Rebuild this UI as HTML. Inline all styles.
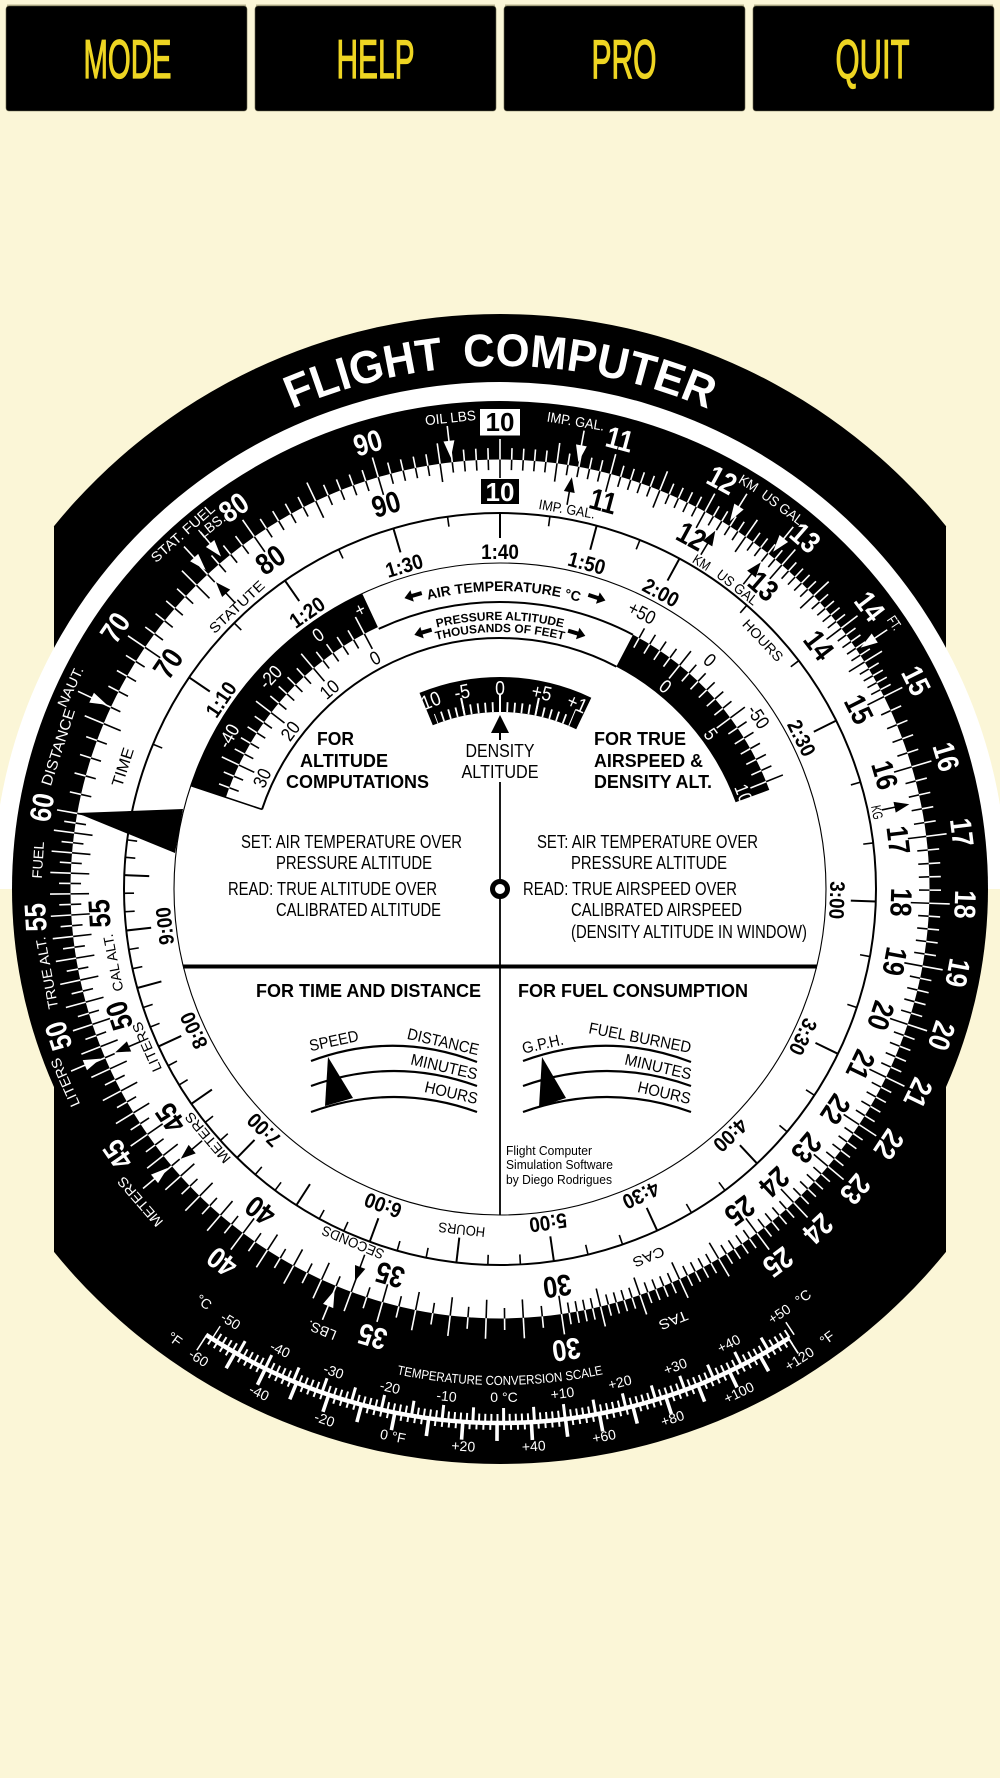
<!DOCTYPE html>
<html lang="en"><head><meta charset="utf-8"><title>Flight Computer</title>
<style>
html,body{margin:0;padding:0;background:#fbf6d7}
svg{display:block;font-family:"Liberation Sans",Arial,sans-serif}
.w{fill:#fff}.k{fill:#000}
.ow{fill:#fff;font-weight:bold;font-size:30px;text-anchor:middle}
.ik{fill:#000;font-weight:bold;font-size:30px;text-anchor:middle}
.tm{fill:#000;font-weight:bold;font-size:21px;text-anchor:middle}
.sm{font-size:14px;text-anchor:middle}
.md{font-size:19px;text-anchor:middle}
.t{font-size:14px;text-anchor:middle;fill:#fff}
.r{font-size:18px;fill:#000}
.b{font-size:18.5px;font-weight:bold;fill:#000}
.btn{font-size:55px;fill:#eed522;stroke:#eed522;stroke-width:1.3px;text-anchor:middle}
</style></head><body>
<svg xmlns="http://www.w3.org/2000/svg" width="1000" height="1778" viewBox="0 0 1000 1778">
<defs>
<g id="L" stroke-width="1.6"><path d="M0-411V-429.5" stroke="#000"/><path d="M0-429.5V-450" stroke="#fff"/></g>
<g id="S" stroke-width="1.6"><path d="M0-419V-429.5" stroke="#000"/><path d="M0-429.5V-441" stroke="#fff"/></g>
<path id="tj" d="M0-376V-351" stroke="#000" stroke-width="2"/>
<path id="tn" d="M0-376V-366" stroke="#000" stroke-width="1.6"/>
<path id="oa" d="M-.8-466h1.6v15h4.7L0-434l-5.5-17h4.7z" fill="#fff"/>
<path id="ia" d="M-.8-390V-403H-5.5L0-418L5.5-403H.8V-390z" fill="#000"/>
<g id="lL" stroke-width="1.6"><path d="M0-272V-289" stroke="#000"/><path d="M0-289V-308" stroke="#fff"/></g>
<g id="lS" stroke-width="1.6"><path d="M0-279V-289" stroke="#000"/><path d="M0-289V-300" stroke="#fff"/></g>
<g id="rL" stroke-width="1.6"><path d="M0-270V-287" stroke="#fff"/><path d="M0-287V-305" stroke="#000"/></g>
<g id="rS" stroke-width="1.6"><path d="M0-276V-287" stroke="#fff"/><path d="M0-287V-298" stroke="#000"/></g>
<path id="ar" d="M-9 0L-1-6V-2H9V2H-1V6Z" fill="#000"/>
<path id="p523" d="M-23 889A523 523 0 0 1 1023 889"/>
<path id="p298" d="M-298 0A298 298 0 0 1 298 0"/>
<path id="p269" d="M-269 0A269 269 0 0 1 269 0"/>
<path id="p257" d="M-257 0A257 257 0 0 1 257 0"/>
<path id="p496" d="M4 889A496 496 0 0 0 996 889"/>
<clipPath id="dc"><path d="M-80.5-196.1A212 212 0 0 1 91.3-191.3L76.2-159.8A177 177 0 0 0-67.2-163.8Z"/></clipPath>
<clipPath id="rc"><path d="M133-254.3A287 287 0 0 1 269.3-99.1L235.6-86.7A251 251 0 0 0 116.3-222.4Z"/></clipPath>
</defs>
<rect width="1000" height="1778" fill="#fbf6d7"/>

<!-- buttons -->
<g>
<rect x="7" y="4.5" width="239" height="3" fill="#b9b48f"/><rect x="256" y="4.5" width="239" height="3" fill="#b9b48f"/><rect x="505" y="4.5" width="239" height="3" fill="#b9b48f"/><rect x="754" y="4.5" width="239" height="3" fill="#b9b48f"/>
<rect x="6" y="6" width="241" height="105" rx="3" fill="#000" stroke="#6b684f" stroke-width=".6"/>
<rect x="255" y="6" width="241" height="105" rx="3" fill="#000" stroke="#6b684f" stroke-width=".6"/>
<rect x="504" y="6" width="241" height="105" rx="3" fill="#000" stroke="#6b684f" stroke-width=".6"/>
<rect x="753" y="6" width="241" height="105" rx="3" fill="#000" stroke="#6b684f" stroke-width=".6"/>
<text class="btn" x="127.5" y="78" textLength="88" lengthAdjust="spacingAndGlyphs">MODE</text>
<text class="btn" x="375.5" y="78" textLength="78" lengthAdjust="spacingAndGlyphs">HELP</text>
<text class="btn" x="624" y="78" textLength="65" lengthAdjust="spacingAndGlyphs">PRO</text>
<text class="btn" x="872.5" y="78" textLength="74" lengthAdjust="spacingAndGlyphs">QUIT</text>
</g>

<!-- base -->
<path d="M54 526.1A575 575 0 0 1 946 526.1V1251.9A575 575 0 0 1 54 1251.9Z" fill="#000"/>
<path d="M-7 889A507 507 0 0 1 1007 889Z" fill="#fff"/>
<text font-size="46" font-weight="bold" fill="#fff" text-anchor="middle" word-spacing="8"><textPath href="#p523" startOffset="50%" textLength="428" lengthAdjust="spacingAndGlyphs">FLIGHT COMPUTER</textPath></text>
<circle cx="500" cy="889" r="488" fill="#000"/>

<!-- temperature scale -->
<g fill="none" stroke="#fff">
<path d="M789.3 1337.9A534 534 0 0 1 206 1334.8" stroke-width="4.5"/>
<path d="M792.2 1330.6A529.5 529.5 0 0 1 214 1334.6" stroke-width="9" stroke-dasharray="2 4.118" stroke-dashoffset="1"/>
<path d="M790.6 1328.05A526.5 526.5 0 0 1 215.6 1332.05" stroke-width="15" stroke-dasharray="3 27.42" stroke-dashoffset="1.5"/>
<path d="M791.2 1340.8A537.5 537.5 0 0 1 204.1 1337.7" stroke-width="7" stroke-dasharray="2 4.9" stroke-dashoffset="1"/>
<path d="M794.1 1345.4A543 543 0 0 1 201.1 1342.3" stroke-width="18" stroke-dasharray="3.6 31.26" stroke-dashoffset="1.8"/>
</g>
<g class="tt">
<text class="t" transform="translate(228 1325) rotate(32.3)">-50</text>
<text class="t" transform="translate(278 1354) rotate(25.8)">-40</text>
<text class="t" transform="translate(332 1376) rotate(19.2)">-30</text>
<text class="t" transform="translate(389 1392) rotate(12.6)">-20</text>
<text class="t" transform="translate(446 1401) rotate(6)">-10</text>
<text class="t" x="504" y="1402">0 °C</text>
<text class="t" transform="translate(563 1398) rotate(-7)">+10</text>
<text class="t" transform="translate(621 1387) rotate(-14)">+20</text>
<text class="t" transform="translate(677 1371) rotate(-20.6)">+30</text>
<text class="t" transform="translate(731 1348) rotate(-27)">+40</text>
<text class="t" transform="translate(782 1318) rotate(-33.6)">+50</text>
<text class="t" transform="translate(201 1306) rotate(36)">°C</text>
<text class="t" transform="translate(806 1301) rotate(-37)">°C</text>
<text class="t" transform="translate(196 1362) rotate(33)">-60</text>
<text class="t" transform="translate(257 1397) rotate(25.8)">-40</text>
<text class="t" transform="translate(323 1424) rotate(18.5)">-20</text>
<text class="t" transform="translate(392 1441) rotate(11.2)">0 °F</text>
<text class="t" transform="translate(463 1451) rotate(3.8)">+20</text>
<text class="t" transform="translate(534 1451) rotate(-3.5)">+40</text>
<text class="t" transform="translate(605 1441) rotate(-10.9)">+60</text>
<text class="t" transform="translate(674 1423) rotate(-18.2)">+80</text>
<text class="t" transform="translate(741 1397) rotate(-25.6)">+100</text>
<text class="t" transform="translate(802 1363) rotate(-32.8)">+120</text>
<text class="t" transform="translate(172 1343) rotate(36)">°F</text>
<text class="t" transform="translate(830 1342) rotate(-36.4)">°F</text>
<text font-size="13" fill="#fff" text-anchor="middle"><textPath href="#p496" startOffset="50%" textLength="208" lengthAdjust="spacingAndGlyphs">TEMPERATURE CONVERSION SCALE</textPath></text>
</g>

<g transform="translate(500 889)">
<circle r="429.5" fill="#fff"/>
<!-- long scale ticks -->
<g>
<use href="#L"/><use href="#L" transform="rotate(7.63)"/><use href="#L" transform="rotate(14.9)"/><use href="#L" transform="rotate(21.85)"/><use href="#L" transform="rotate(28.51)"/><use href="#L" transform="rotate(34.89)"/><use href="#L" transform="rotate(41.02)"/><use href="#L" transform="rotate(46.92)"/><use href="#L" transform="rotate(52.61)"/><use href="#L" transform="rotate(58.09)"/><use href="#L" transform="rotate(63.39)"/>
<use href="#S" transform="rotate(1.56)"/><use href="#S" transform="rotate(3.1)"/><use href="#S" transform="rotate(4.62)"/><use href="#S" transform="rotate(6.13)"/><use href="#S" transform="rotate(9.11)"/><use href="#S" transform="rotate(10.58)"/><use href="#S" transform="rotate(12.03)"/><use href="#S" transform="rotate(13.47)"/>
<use href="#S" transform="rotate(16.32)"/><use href="#S" transform="rotate(17.72)"/><use href="#S" transform="rotate(19.11)"/><use href="#S" transform="rotate(20.49)"/><use href="#S" transform="rotate(23.21)"/><use href="#S" transform="rotate(24.55)"/><use href="#S" transform="rotate(25.88)"/><use href="#S" transform="rotate(27.2)"/>
<use href="#S" transform="rotate(29.8)"/><use href="#S" transform="rotate(31.09)"/><use href="#S" transform="rotate(32.37)"/><use href="#S" transform="rotate(33.63)"/><use href="#S" transform="rotate(36.13)"/><use href="#S" transform="rotate(37.37)"/><use href="#S" transform="rotate(38.6)"/><use href="#S" transform="rotate(39.81)"/>
<use href="#S" transform="rotate(42.22)"/><use href="#S" transform="rotate(43.41)"/><use href="#S" transform="rotate(44.59)"/><use href="#S" transform="rotate(45.76)"/><use href="#S" transform="rotate(48.07)"/><use href="#S" transform="rotate(49.22)"/><use href="#S" transform="rotate(50.36)"/><use href="#S" transform="rotate(51.48)"/>
<use href="#S" transform="rotate(53.72)"/><use href="#S" transform="rotate(54.82)"/><use href="#S" transform="rotate(55.92)"/><use href="#S" transform="rotate(57.01)"/><use href="#S" transform="rotate(59.17)"/><use href="#S" transform="rotate(60.23)"/><use href="#S" transform="rotate(61.29)"/><use href="#S" transform="rotate(62.35)"/>
<use href="#S" transform="rotate(65.46)"/><use href="#S" transform="rotate(67.51)"/><use href="#S" transform="rotate(69.52)"/><use href="#S" transform="rotate(71.52)"/><use href="#L" transform="rotate(73.48)"/>
<use href="#S" transform="rotate(75.43)"/><use href="#S" transform="rotate(77.34)"/><use href="#S" transform="rotate(79.24)"/><use href="#S" transform="rotate(81.11)"/><use href="#L" transform="rotate(82.96)"/>
<use href="#S" transform="rotate(84.79)"/><use href="#S" transform="rotate(86.6)"/><use href="#S" transform="rotate(88.38)"/><use href="#S" transform="rotate(90.15)"/><use href="#L" transform="rotate(91.9)"/>
<use href="#S" transform="rotate(93.63)"/><use href="#S" transform="rotate(95.33)"/><use href="#S" transform="rotate(97.02)"/><use href="#S" transform="rotate(98.7)"/><use href="#L" transform="rotate(100.35)"/>
<use href="#S" transform="rotate(101.99)"/><use href="#S" transform="rotate(103.61)"/><use href="#S" transform="rotate(105.21)"/><use href="#S" transform="rotate(106.8)"/><use href="#L" transform="rotate(108.37)"/>
<use href="#S" transform="rotate(109.93)"/><use href="#S" transform="rotate(111.47)"/><use href="#S" transform="rotate(112.99)"/><use href="#S" transform="rotate(114.5)"/><use href="#L" transform="rotate(116)"/>
<use href="#S" transform="rotate(117.48)"/><use href="#S" transform="rotate(118.95)"/><use href="#S" transform="rotate(120.4)"/><use href="#S" transform="rotate(121.85)"/><use href="#L" transform="rotate(123.27)"/>
<use href="#S" transform="rotate(124.69)"/><use href="#S" transform="rotate(126.09)"/><use href="#S" transform="rotate(127.48)"/><use href="#S" transform="rotate(128.86)"/><use href="#L" transform="rotate(130.22)"/>
<use href="#S" transform="rotate(131.58)"/><use href="#S" transform="rotate(132.92)"/><use href="#S" transform="rotate(134.25)"/><use href="#S" transform="rotate(135.57)"/><use href="#L" transform="rotate(136.88)"/>
<use href="#S" transform="rotate(138.17)"/><use href="#S" transform="rotate(139.46)"/><use href="#S" transform="rotate(140.74)"/><use href="#S" transform="rotate(142)"/><use href="#L" transform="rotate(143.26)"/>
<use href="#S" transform="rotate(144.5)"/><use href="#S" transform="rotate(145.74)"/><use href="#S" transform="rotate(146.97)"/><use href="#S" transform="rotate(148.18)"/><use href="#L" transform="rotate(149.39)"/>
<use href="#S" transform="rotate(150.59)"/><use href="#S" transform="rotate(151.78)"/><use href="#S" transform="rotate(152.96)"/><use href="#S" transform="rotate(154.13)"/><use href="#L" transform="rotate(155.29)"/>
<use href="#S" transform="rotate(156.44)"/><use href="#S" transform="rotate(157.59)"/><use href="#S" transform="rotate(158.73)"/><use href="#S" transform="rotate(159.86)"/><use href="#L" transform="rotate(160.98)"/>
<use href="#S" transform="rotate(162.09)"/><use href="#S" transform="rotate(163.2)"/><use href="#S" transform="rotate(164.29)"/><use href="#S" transform="rotate(165.38)"/><use href="#L" transform="rotate(166.46)"/>
<use href="#S" transform="rotate(167.54)"/><use href="#S" transform="rotate(168.61)"/><use href="#S" transform="rotate(169.66)"/><use href="#S" transform="rotate(170.72)"/><use href="#L" transform="rotate(171.76)"/>
<use href="#S" transform="rotate(174.35)"/><use href="#L" transform="rotate(176.89)"/><use href="#S" transform="rotate(179.39)"/><use href="#L" transform="rotate(181.85)"/><use href="#S" transform="rotate(184.28)"/><use href="#L" transform="rotate(186.66)"/><use href="#S" transform="rotate(189.01)"/><use href="#L" transform="rotate(191.33)"/><use href="#S" transform="rotate(193.62)"/><use href="#L" transform="rotate(195.87)"/>
<use href="#S" transform="rotate(198.08)"/><use href="#L" transform="rotate(200.27)"/><use href="#S" transform="rotate(202.43)"/><use href="#L" transform="rotate(204.55)"/><use href="#S" transform="rotate(206.65)"/><use href="#L" transform="rotate(208.72)"/><use href="#S" transform="rotate(210.77)"/><use href="#L" transform="rotate(212.78)"/><use href="#S" transform="rotate(214.78)"/><use href="#L" transform="rotate(216.74)"/>
<use href="#S" transform="rotate(218.69)"/><use href="#L" transform="rotate(220.6)"/><use href="#S" transform="rotate(222.5)"/><use href="#L" transform="rotate(224.37)"/><use href="#S" transform="rotate(226.22)"/><use href="#L" transform="rotate(228.05)"/><use href="#S" transform="rotate(229.86)"/><use href="#L" transform="rotate(231.64)"/><use href="#S" transform="rotate(233.41)"/><use href="#L" transform="rotate(235.16)"/>
<use href="#S" transform="rotate(236.88)"/><use href="#L" transform="rotate(238.59)"/><use href="#S" transform="rotate(240.28)"/><use href="#L" transform="rotate(241.96)"/><use href="#S" transform="rotate(243.61)"/><use href="#L" transform="rotate(245.25)"/><use href="#S" transform="rotate(246.87)"/><use href="#L" transform="rotate(248.47)"/><use href="#S" transform="rotate(250.06)"/><use href="#L" transform="rotate(251.63)"/>
<use href="#S" transform="rotate(253.18)"/><use href="#L" transform="rotate(254.73)"/><use href="#S" transform="rotate(256.25)"/><use href="#L" transform="rotate(257.76)"/><use href="#S" transform="rotate(259.26)"/><use href="#L" transform="rotate(260.74)"/><use href="#S" transform="rotate(262.21)"/><use href="#L" transform="rotate(263.66)"/><use href="#S" transform="rotate(265.1)"/><use href="#L" transform="rotate(266.53)"/>
<use href="#S" transform="rotate(267.94)"/><use href="#L" transform="rotate(269.35)"/><use href="#S" transform="rotate(270.74)"/><use href="#L" transform="rotate(272.11)"/><use href="#S" transform="rotate(273.48)"/><use href="#L" transform="rotate(274.83)"/><use href="#S" transform="rotate(276.18)"/><use href="#L" transform="rotate(277.51)"/><use href="#S" transform="rotate(278.83)"/><use href="#L" transform="rotate(280.13)"/>
<use href="#S" transform="rotate(282.72)"/><use href="#S" transform="rotate(285.26)"/><use href="#S" transform="rotate(287.76)"/><use href="#S" transform="rotate(290.22)"/><use href="#L" transform="rotate(292.65)"/><use href="#S" transform="rotate(295.03)"/><use href="#S" transform="rotate(297.39)"/><use href="#S" transform="rotate(299.7)"/><use href="#S" transform="rotate(301.99)"/><use href="#L" transform="rotate(304.24)"/>
<use href="#S" transform="rotate(306.45)"/><use href="#S" transform="rotate(308.64)"/><use href="#S" transform="rotate(310.8)"/><use href="#S" transform="rotate(312.92)"/><use href="#L" transform="rotate(315.02)"/><use href="#S" transform="rotate(317.09)"/><use href="#S" transform="rotate(319.14)"/><use href="#S" transform="rotate(321.15)"/><use href="#S" transform="rotate(323.15)"/><use href="#L" transform="rotate(325.11)"/>
<use href="#S" transform="rotate(327.06)"/><use href="#S" transform="rotate(328.97)"/><use href="#S" transform="rotate(330.87)"/><use href="#S" transform="rotate(332.74)"/><use href="#L" transform="rotate(334.59)"/><use href="#S" transform="rotate(336.42)"/><use href="#S" transform="rotate(338.23)"/><use href="#S" transform="rotate(340.01)"/><use href="#S" transform="rotate(341.78)"/><use href="#L" transform="rotate(343.53)"/>
<use href="#S" transform="rotate(345.25)"/><use href="#S" transform="rotate(346.96)"/><use href="#S" transform="rotate(348.65)"/><use href="#S" transform="rotate(350.33)"/><use href="#L" transform="rotate(351.98)"/><use href="#S" transform="rotate(353.62)"/><use href="#S" transform="rotate(355.24)"/><use href="#S" transform="rotate(356.84)"/><use href="#S" transform="rotate(358.43)"/>
</g>
<!-- numbers -->
<g>
<text class="ow" y="-455" transform="rotate(14.9) scale(.85 1)">11</text><text class="ow" y="-455" transform="rotate(28.5) scale(.85 1)">12</text><text class="ow" y="-455" transform="rotate(41) scale(.85 1)">13</text><text class="ow" y="-455" transform="rotate(52.6) scale(.85 1)">14</text><text class="ow" y="-455" transform="rotate(63.4) scale(.85 1)">15</text><text class="ow" y="-455" transform="rotate(73.5) scale(.85 1)">16</text><text class="ow" y="-455" transform="rotate(83) scale(.85 1)">17</text><text class="ow" y="-455" transform="rotate(91.9) scale(.85 1)">18</text><text class="ow" y="-455" transform="rotate(100.4) scale(.85 1)">19</text><text class="ow" y="-455" transform="rotate(108.4) scale(.85 1)">20</text><text class="ow" y="-455" transform="rotate(116) scale(.85 1)">21</text><text class="ow" y="-455" transform="rotate(123.3) scale(.85 1)">22</text><text class="ow" y="-455" transform="rotate(130.2) scale(.85 1)">23</text><text class="ow" y="-455" transform="rotate(136.9) scale(.85 1)">24</text><text class="ow" y="-455" transform="rotate(143.3) scale(.85 1)">25</text><text class="ow" y="-455" transform="rotate(171.8) scale(.85 1)">30</text><text class="ow" y="-455" transform="rotate(195.9) scale(.85 1)">35</text><text class="ow" y="-455" transform="rotate(216.7) scale(.85 1)">40</text><text class="ow" y="-455" transform="rotate(235.2) scale(.85 1)">45</text><text class="ow" y="-455" transform="rotate(251.6) scale(.85 1)">50</text><text class="ow" y="-455" transform="rotate(266.5) scale(.85 1)">55</text><text class="ow" y="-455" transform="rotate(280.1) scale(.85 1)">60</text><text class="ow" y="-455" transform="rotate(304.2) scale(.85 1)">70</text><text class="ow" y="-455" transform="rotate(325.1) scale(.85 1)">80</text><text class="ow" y="-455" transform="rotate(343.5) scale(.85 1)">90</text>
<text class="ik" y="-391" transform="rotate(14.9) scale(.85 1)">11</text><text class="ik" y="-391" transform="rotate(28.5) scale(.85 1)">12</text><text class="ik" y="-391" transform="rotate(41) scale(.85 1)">13</text><text class="ik" y="-391" transform="rotate(52.6) scale(.85 1)">14</text><text class="ik" y="-391" transform="rotate(63.4) scale(.85 1)">15</text><text class="ik" y="-391" transform="rotate(73.5) scale(.85 1)">16</text><text class="ik" y="-391" transform="rotate(83) scale(.85 1)">17</text><text class="ik" y="-391" transform="rotate(91.9) scale(.85 1)">18</text><text class="ik" y="-391" transform="rotate(100.4) scale(.85 1)">19</text><text class="ik" y="-391" transform="rotate(108.4) scale(.85 1)">20</text><text class="ik" y="-391" transform="rotate(116) scale(.85 1)">21</text><text class="ik" y="-391" transform="rotate(123.3) scale(.85 1)">22</text><text class="ik" y="-391" transform="rotate(130.2) scale(.85 1)">23</text><text class="ik" y="-391" transform="rotate(136.9) scale(.85 1)">24</text><text class="ik" y="-391" transform="rotate(143.3) scale(.85 1)">25</text><text class="ik" y="-391" transform="rotate(171.8) scale(.85 1)">30</text><text class="ik" y="-391" transform="rotate(195.9) scale(.85 1)">35</text><text class="ik" y="-391" transform="rotate(216.7) scale(.85 1)">40</text><text class="ik" y="-391" transform="rotate(235.2) scale(.85 1)">45</text><text class="ik" y="-391" transform="rotate(251.6) scale(.85 1)">50</text><text class="ik" y="-391" transform="rotate(266.5) scale(.85 1)">55</text><text class="ik" y="-391" transform="rotate(304.2) scale(.85 1)">70</text><text class="ik" y="-391" transform="rotate(325.1) scale(.85 1)">80</text><text class="ik" y="-391" transform="rotate(343.5) scale(.85 1)">90</text>
<rect x="-20" y="-480" width="40" height="26.5" fill="#fff"/><text x="0" y="-458" font-size="26" font-weight="bold" text-anchor="middle" class="k">10</text>
<rect x="-19" y="-410" width="38" height="25" fill="#000"/><text x="0" y="-388" font-size="26" font-weight="bold" text-anchor="middle" class="w">10</text>
</g>
<!-- arrows -->
<use href="#oa" transform="rotate(353.5)"/><use href="#oa" transform="rotate(10.4)"/><use href="#oa" transform="rotate(32)"/><use href="#oa" transform="rotate(39)"/><use href="#oa" transform="rotate(56.2)"/><use href="#oa" transform="rotate(317.3)"/><use href="#oa" transform="rotate(320)"/><use href="#oa" transform="rotate(295.1)"/><use href="#oa" transform="rotate(247)"/><use href="#oa" transform="rotate(230)"/><use href="#oa" transform="rotate(202.4)"/>
<use href="#ia" transform="rotate(9.9)"/><use href="#ia" transform="rotate(31)"/><use href="#ia" transform="rotate(38.6)"/><use href="#ia" transform="rotate(78.3)"/><use href="#ia" transform="rotate(317.2)"/><use href="#ia" transform="rotate(247)"/><use href="#ia" transform="rotate(229.8)"/><use href="#ia" transform="rotate(200.3)"/>
<!-- small labels -->
<g class="w">
<text class="sm" y="-469" transform="rotate(354)" textLength="51" lengthAdjust="spacingAndGlyphs">OIL LBS</text>
<text class="sm" y="-469" transform="rotate(9.2)" textLength="58" lengthAdjust="spacingAndGlyphs">IMP. GAL.</text>
<text class="sm" y="-471" transform="rotate(31.5)" textLength="20" lengthAdjust="spacingAndGlyphs">KM</text>
<text class="sm" y="-470" transform="rotate(36.5)" textLength="48" lengthAdjust="spacingAndGlyphs">US GAL</text>
<text class="sm" y="-471" transform="rotate(56)" textLength="14" lengthAdjust="spacingAndGlyphs">FT.</text>
<text class="sm" y="-472" transform="rotate(318.3)" textLength="80" lengthAdjust="spacingAndGlyphs">STAT. FUEL</text>
<text class="sm" y="-459" transform="rotate(321.6)" textLength="30" lengthAdjust="spacingAndGlyphs">LBS.</text>
<text class="sm" y="-470" transform="rotate(295.2)" textLength="43" lengthAdjust="spacingAndGlyphs">NAUT.</text>
<text class="sm" style="font-size:15px" y="-459" transform="rotate(287.8)" textLength="80" lengthAdjust="spacingAndGlyphs">DISTANCE</text>
<text class="sm" y="-458" transform="rotate(273.6)" textLength="37" lengthAdjust="spacingAndGlyphs">FUEL</text>
<text class="sm" y="-456" transform="rotate(259.5)" textLength="73" lengthAdjust="spacingAndGlyphs">TRUE ALT.</text>
<text class="sm" y="-471" transform="rotate(246)" textLength="52" lengthAdjust="spacingAndGlyphs">LITERS</text>
<text class="sm" y="-472" transform="rotate(229)" textLength="61" lengthAdjust="spacingAndGlyphs">METERS</text>
<text class="sm" y="-471" transform="rotate(202)" textLength="30" lengthAdjust="spacingAndGlyphs">LBS.</text>
<text class="sm" y="-460" transform="rotate(158.1)" textLength="30" lengthAdjust="spacingAndGlyphs">TAS</text>
</g>
<g class="k">
<text class="sm" y="-381" transform="rotate(10)" textLength="57" lengthAdjust="spacingAndGlyphs">IMP. GAL.</text>
<text class="sm" y="-379" transform="rotate(31.7)" textLength="18" lengthAdjust="spacingAndGlyphs">KM</text>
<text class="sm" y="-379" transform="rotate(38.2)" textLength="48" lengthAdjust="spacingAndGlyphs">US GAL</text>
<text class="sm" y="-380" transform="rotate(78.5)" textLength="14" lengthAdjust="spacingAndGlyphs">KG</text>
<text class="sm" y="-357" transform="rotate(46.6)" textLength="52" lengthAdjust="spacingAndGlyphs">HOURS</text>
<text class="sm" y="-381" transform="rotate(317)" textLength="70" lengthAdjust="spacingAndGlyphs">STATUTE</text>
<text class="sm" style="font-size:16px" y="-391" transform="rotate(287.9)" textLength="40" lengthAdjust="spacingAndGlyphs">TIME</text>
<text class="sm" y="-389" transform="rotate(259.2)" textLength="58" lengthAdjust="spacingAndGlyphs">CAL ALT.</text>
<text class="sm" y="-382" transform="rotate(245.9)" textLength="53" lengthAdjust="spacingAndGlyphs">LITERS</text>
<text class="sm" y="-379" transform="rotate(229.6)" textLength="62" lengthAdjust="spacingAndGlyphs">METERS</text>
<text class="sm" y="-378" transform="rotate(202.6)" textLength="66" lengthAdjust="spacingAndGlyphs">SECONDS</text>
<text class="sm" y="-338" transform="rotate(186.4)" textLength="47" lengthAdjust="spacingAndGlyphs">HOURS</text>
<text class="sm" y="-392" transform="rotate(158)" textLength="33" lengthAdjust="spacingAndGlyphs">CAS</text>
</g>
<!-- time ring -->
<circle r="376" fill="none" stroke="#000" stroke-width="2"/>
<circle r="326" fill="none" stroke="#000" stroke-width="1.1"/>
<g>
<use href="#tn" transform="rotate(292.65)"/><use href="#tn" transform="rotate(315.02)"/><use href="#tn" transform="rotate(334.59)"/><use href="#tn" transform="rotate(351.98)"/><use href="#tn" transform="rotate(7.63)"/><use href="#tn" transform="rotate(21.85)"/><use href="#tn" transform="rotate(41.02)"/><use href="#tn" transform="rotate(52.61)"/><use href="#tn" transform="rotate(73.48)"/><use href="#tn" transform="rotate(82.96)"/><use href="#tn" transform="rotate(100.35)"/><use href="#tn" transform="rotate(108.37)"/><use href="#tn" transform="rotate(123.27)"/><use href="#tn" transform="rotate(130.22)"/><use href="#tn" transform="rotate(143.26)"/><use href="#tn" transform="rotate(149.39)"/><use href="#tn" transform="rotate(160.98)"/><use href="#tn" transform="rotate(166.46)"/><use href="#tn" transform="rotate(176.89)"/><use href="#tn" transform="rotate(181.85)"/><use href="#tn" transform="rotate(191.33)"/><use href="#tn" transform="rotate(195.87)"/><use href="#tn" transform="rotate(204.55)"/><use href="#tn" transform="rotate(208.72)"/><use href="#tn" transform="rotate(216.74)"/><use href="#tn" transform="rotate(220.6)"/><use href="#tn" transform="rotate(228.05)"/><use href="#tn" transform="rotate(231.64)"/><use href="#tn" transform="rotate(238.59)"/><use href="#tn" transform="rotate(241.96)"/><use href="#tn" transform="rotate(248.47)"/><use href="#tn" transform="rotate(251.63)"/><use href="#tn" transform="rotate(257.76)"/><use href="#tn" transform="rotate(260.74)"/><use href="#tn" transform="rotate(266.53)"/><use href="#tn" transform="rotate(269.35)"/><use href="#tn" transform="rotate(274.83)"/><use href="#tn" transform="rotate(277.51)"/>
<use href="#tj" transform="rotate(304.24)"/><use href="#tj" transform="rotate(325.11)"/><use href="#tj" transform="rotate(343.53)"/><use href="#tj"/><use href="#tj" transform="rotate(14.9)"/><use href="#tj" transform="rotate(28.51)"/><use href="#tj" transform="rotate(63.39)"/><use href="#tj" transform="rotate(91.9)"/><use href="#tj" transform="rotate(116)"/><use href="#tj" transform="rotate(136.88)"/><use href="#tj" transform="rotate(155.29)"/><use href="#tj" transform="rotate(171.76)"/><use href="#tj" transform="rotate(186.66)"/><use href="#tj" transform="rotate(200.27)"/><use href="#tj" transform="rotate(212.78)"/><use href="#tj" transform="rotate(224.37)"/><use href="#tj" transform="rotate(235.16)"/><use href="#tj" transform="rotate(245.25)"/><use href="#tj" transform="rotate(254.73)"/><use href="#tj" transform="rotate(263.66)"/><use href="#tj" transform="rotate(272.11)"/>
<text class="tm" y="-330" transform="rotate(304.2) scale(.9 1)">1:10</text><text class="tm" y="-330" transform="rotate(325.1) scale(.9 1)">1:20</text><text class="tm" y="-330" transform="rotate(343.5) scale(.9 1)">1:30</text><text class="tm" y="-330" transform="scale(.9 1)">1:40</text><text class="tm" y="-330" transform="rotate(14.9) scale(.9 1)">1:50</text><text class="tm" y="-330" transform="rotate(28.5) scale(.9 1)">2:00</text><text class="tm" y="-330" transform="rotate(63.4) scale(.9 1)">2:30</text><text class="tm" y="-330" transform="rotate(91.9) scale(.9 1)">3:00</text><text class="tm" y="-330" transform="rotate(116) scale(.9 1)">3:30</text><text class="tm" y="-330" transform="rotate(136.9) scale(.9 1)">4:00</text><text class="tm" y="-330" transform="rotate(155.3) scale(.9 1)">4:30</text><text class="tm" y="-330" transform="rotate(171.8) scale(.9 1)">5:00</text><text class="tm" y="-330" transform="rotate(200.3) scale(.9 1)">6:00</text><text class="tm" y="-330" transform="rotate(224.4) scale(.9 1)">7:00</text><text class="tm" y="-330" transform="rotate(245.2) scale(.9 1)">8:00</text><text class="tm" y="-330" transform="rotate(263.7) scale(.9 1)">9:00</text>
</g>
<!-- windows -->
<path d="M-309.2-103.4A326 326 0 0 1-137.8-295.5L-122.1-261.9A289 289 0 0 0-274.1-91.7Z" fill="#000"/>
<path d="M133-254.3A287 287 0 0 1 269.3-99.1L235.6-86.7A251 251 0 0 0 116.3-222.4Z" fill="#000"/>
<path d="M-121.3-260.1A287 287 0 0 1 133-254.3" fill="none" stroke="#000" stroke-width="2"/>
<path d="M-238-79.6A251 251 0 0 1 116.3-222.4" fill="none" stroke="#000" stroke-width="2"/>
<path d="M-309.2-103.4L-238-79.6" fill="none" stroke="#000" stroke-width="1.6"/>
<g>
<use href="#lL" transform="rotate(332)"/><use href="#lS" transform="rotate(329.56)"/><use href="#lS" transform="rotate(327.12)"/><use href="#lS" transform="rotate(324.68)"/><use href="#lS" transform="rotate(322.24)"/><use href="#lL" transform="rotate(319.8)"/><use href="#lS" transform="rotate(317.36)"/><use href="#lS" transform="rotate(314.92)"/><use href="#lS" transform="rotate(312.48)"/><use href="#lS" transform="rotate(310.04)"/><use href="#lL" transform="rotate(307.6)"/><use href="#lS" transform="rotate(305.16)"/><use href="#lS" transform="rotate(302.72)"/><use href="#lS" transform="rotate(300.28)"/><use href="#lS" transform="rotate(297.84)"/><use href="#lL" transform="rotate(295.4)"/><use href="#lS" transform="rotate(292.96)"/><use href="#lS" transform="rotate(290.52)"/>
<use href="#rS" transform="rotate(29)"/><use href="#rS" transform="rotate(31.44)"/><use href="#rS" transform="rotate(33.88)"/><use href="#rS" transform="rotate(36.32)"/><use href="#rL" transform="rotate(38.76)"/><use href="#rS" transform="rotate(41.2)"/><use href="#rS" transform="rotate(43.64)"/><use href="#rS" transform="rotate(46.08)"/><use href="#rS" transform="rotate(48.52)"/><use href="#rS" transform="rotate(50.96)"/><use href="#rL" transform="rotate(53.4)"/><use href="#rS" transform="rotate(55.84)"/><use href="#rS" transform="rotate(58.28)"/><use href="#rS" transform="rotate(60.72)"/><use href="#rS" transform="rotate(63.16)"/><use href="#rS" transform="rotate(65.6)"/><use href="#rL" transform="rotate(68.04)"/>
</g>
<g class="k">
<text class="md" y="-256" transform="rotate(331.6) scale(.88 1)">0</text><text class="md" y="-256" transform="rotate(319.5) scale(.88 1)">10</text><text class="md" y="-256" transform="rotate(307) scale(.88 1)">20</text><text class="md" y="-256" transform="rotate(295) scale(.88 1)">30</text>
<text class="md" y="-304" transform="rotate(27.2) scale(.88 1)">+50</text><text class="md" y="-304" transform="rotate(42.5) scale(.88 1)">0</text><text class="md" y="-304" transform="rotate(56.3) scale(.88 1)">-50</text>
</g>
<g class="w">
<text class="md" y="-306" transform="rotate(333.4) scale(.88 1)">+</text><text class="md" y="-306" transform="rotate(324.4) scale(.88 1)">0</text><text class="md" y="-306" transform="rotate(312.7) scale(.88 1)">-20</text><text class="md" y="-305" transform="rotate(299.4) scale(.88 1)">-40</text>
<g clip-path="url(#rc)"><text class="md" y="-255" transform="rotate(39.2) scale(.88 1)">0</text><text class="md" y="-255" transform="rotate(53.7) scale(.88 1)">5</text><text class="md" y="-255" transform="rotate(68.6) scale(.88 1)">10</text></g>
</g>
<text font-size="14" font-weight="bold" class="k" text-anchor="middle"><textPath href="#p298" startOffset="50.4%">AIR TEMPERATURE °C</textPath></text>
<use href="#ar" transform="rotate(-16.5) translate(0 -306)"/><use href="#ar" transform="rotate(18.4) translate(0 -307) scale(-1 1)"/>
<text font-size="12" font-weight="bold" class="k" text-anchor="middle"><textPath href="#p269" startOffset="50%">PRESSURE ALTITUDE</textPath></text>
<text font-size="11.9" font-weight="bold" class="k" text-anchor="middle"><textPath href="#p257" startOffset="50%">THOUSANDS OF FEET</textPath></text>
<use href="#ar" transform="rotate(-16.7) translate(0 -268)"/><use href="#ar" transform="rotate(16.7) translate(0 -267) scale(-1 1)"/>
<!-- density window -->
<path d="M-80.5-196.1A212 212 0 0 1 91.3-191.3L76.2-159.8A177 177 0 0 0-67.2-163.8Z" fill="#000"/>
<g fill="none" stroke="#fff" clip-path="url(#dc)">
<path d="M-64.3-170.2A182 182 0 0 1 71.1-167.5" stroke-width="10" stroke-dasharray="1.8 5.506" stroke-dashoffset=".9"/>
<path d="M-72.7-171.2A186 186 0 0 1 72.7-171.2" stroke-width="18" stroke-dasharray="2 35.33" stroke-dashoffset="1"/>
</g>
<g class="w" clip-path="url(#dc)">
<text class="md" style="font-size:20px" y="-194" transform="rotate(-21) scale(.88 1)">-10</text><text class="md" style="font-size:20px" y="-194" transform="rotate(-10.9) scale(.88 1)">-5</text><text class="md" style="font-size:20px" y="-194" transform="scale(.88 1)">0</text><text class="md" style="font-size:20px" y="-194" transform="rotate(12) scale(.88 1)">+5</text><text class="md" style="font-size:20px" y="-194" transform="rotate(24) scale(.88 1)">+10</text>
</g>
<path d="M0-174L9-156H1V-149H-1V-156H-9Z" fill="#000"/>
<!-- index -->
<path d="M-423-76L-317-80L-325-36Z" fill="#000"/>
</g>

<!-- center -->
<path d="M500 782V1215" stroke="#000" stroke-width="1.8"/>
<path d="M183 966.5H817" stroke="#000" stroke-width="4"/>
<circle cx="500" cy="889" r="7.5" fill="#fff" stroke="#000" stroke-width="5"/>
<text class="r" text-anchor="middle" x="500" y="757" textLength="69" lengthAdjust="spacingAndGlyphs">DENSITY</text>
<text class="r" text-anchor="middle" x="500" y="778" textLength="77" lengthAdjust="spacingAndGlyphs">ALTITUDE</text>
<g class="b">
<text class="b" x="317" y="745" textLength="37" lengthAdjust="spacingAndGlyphs">FOR</text>
<text class="b" x="300" y="767" textLength="88" lengthAdjust="spacingAndGlyphs">ALTITUDE</text>
<text class="b" x="286" y="788" textLength="143" lengthAdjust="spacingAndGlyphs">COMPUTATIONS</text>
<text class="b" x="594" y="745" textLength="92" lengthAdjust="spacingAndGlyphs">FOR TRUE</text>
<text class="b" x="594" y="767" textLength="109" lengthAdjust="spacingAndGlyphs">AIRSPEED &amp;</text>
<text class="b" x="594" y="788" textLength="118" lengthAdjust="spacingAndGlyphs">DENSITY ALT.</text>
<text class="b" x="256" y="997" textLength="225" lengthAdjust="spacingAndGlyphs">FOR TIME AND DISTANCE</text>
<text class="b" x="518" y="997" textLength="230" lengthAdjust="spacingAndGlyphs">FOR FUEL CONSUMPTION</text>
</g>
<text class="r" x="241" y="848" textLength="221" lengthAdjust="spacingAndGlyphs">SET: AIR TEMPERATURE OVER</text>
<text class="r" x="276" y="869" textLength="156" lengthAdjust="spacingAndGlyphs">PRESSURE ALTITUDE</text>
<text class="r" x="228" y="895" textLength="209" lengthAdjust="spacingAndGlyphs">READ: TRUE ALTITUDE OVER</text>
<text class="r" x="276" y="916" textLength="165" lengthAdjust="spacingAndGlyphs">CALIBRATED ALTITUDE</text>
<text class="r" x="537" y="848" textLength="221" lengthAdjust="spacingAndGlyphs">SET: AIR TEMPERATURE OVER</text>
<text class="r" x="571" y="869" textLength="156" lengthAdjust="spacingAndGlyphs">PRESSURE ALTITUDE</text>
<text class="r" x="523" y="895" textLength="214" lengthAdjust="spacingAndGlyphs">READ: TRUE AIRSPEED OVER</text>
<text class="r" x="571" y="916" textLength="171" lengthAdjust="spacingAndGlyphs">CALIBRATED AIRSPEED</text>
<text class="r" x="571" y="938" textLength="236" lengthAdjust="spacingAndGlyphs">(DENSITY ALTITUDE IN WINDOW)</text>

<!-- mini diagrams -->
<g fill="none" stroke="#000" stroke-width="2.2">
<path d="M311 1061Q394 1030 477 1062"/><path d="M311 1086Q394 1056 477 1086"/><path d="M311 1112Q394 1082 477 1112"/>
<path d="M523 1061Q607 1030 691 1062"/><path d="M523 1086Q607 1056 691 1086"/><path d="M523 1112Q607 1082 691 1112"/>
</g>
<path d="M328 1057L325 1106L353 1098Z" fill="#000"/>
<path d="M542 1057L539 1107L566 1098Z" fill="#000"/>
<g font-size="16" fill="#000" text-anchor="middle">
<text transform="translate(335 1046) rotate(-12)" textLength="50" lengthAdjust="spacingAndGlyphs">SPEED</text>
<text transform="translate(442 1047) rotate(13)" textLength="73" lengthAdjust="spacingAndGlyphs">DISTANCE</text>
<text transform="translate(443 1072) rotate(13)" textLength="68" lengthAdjust="spacingAndGlyphs">MINUTES</text>
<text transform="translate(450 1098) rotate(13)" textLength="54" lengthAdjust="spacingAndGlyphs">HOURS</text>
<text transform="translate(544 1049) rotate(-13)" textLength="42" lengthAdjust="spacingAndGlyphs">G.P.H.</text>
<text transform="translate(639 1043) rotate(11)" textLength="104" lengthAdjust="spacingAndGlyphs">FUEL BURNED</text>
<text transform="translate(657 1072) rotate(13)" textLength="68" lengthAdjust="spacingAndGlyphs">MINUTES</text>
<text transform="translate(663 1098) rotate(13)" textLength="54" lengthAdjust="spacingAndGlyphs">HOURS</text>
</g>
<g font-size="13" fill="#000">
<text x="506" y="1155" textLength="86" lengthAdjust="spacingAndGlyphs">Flight Computer</text>
<text x="506" y="1169" textLength="107" lengthAdjust="spacingAndGlyphs">Simulation Software</text>
<text x="506" y="1184" textLength="106" lengthAdjust="spacingAndGlyphs">by Diego Rodrigues</text>
</g>
</svg>
</body></html>
